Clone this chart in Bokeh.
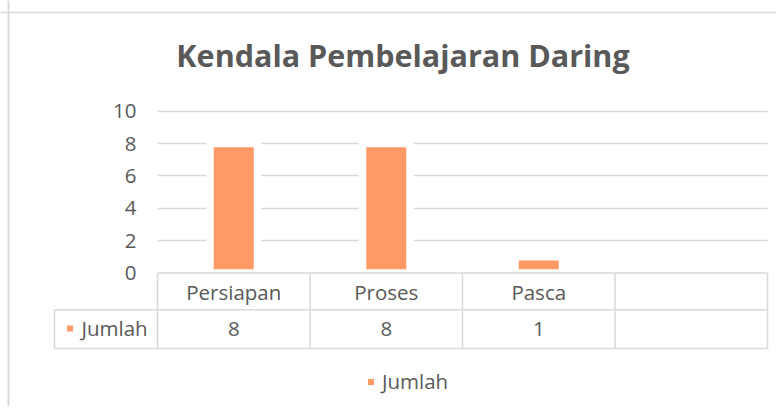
from bokeh.plotting import figure
from bokeh.models import (Range1d, LinearAxis, FixedTicker, Grid, Span, Label,
                          Legend, LegendItem)
from bokeh.embed import file_html
from bokeh.resources import INLINE
from bokeh.core.properties import value

# ---------------- data ----------------
title_text = "Kendala Pembelajaran Daring"
categories = ["Persiapan", "Proses", "Pasca", ""]
values = [8, 8, 1, None]
series_name = "Jumlah"
y_ticks = [0, 2, 4, 6, 8, 10]

# ---------------- style ----------------
FONT = "Open Sans"
FS = "20.5px"
GREY = "#595959"
LINE = "#D9D9D9"
ORANGE = "#FF9966"

W, H = 776, 406
PX = 152.5               # pixels per category
PY = 16.18               # pixels per y unit
X0_PAGE, Y0_PAGE = 157.0, 272.5
DY = 7.2                 # baseline compensation for 20.5px text


def xd(px):
    return (px - X0_PAGE) / PX


def yd(py):
    return (Y0_PAGE - py) / PY


p = figure(width=W, height=H, output_backend="svg", toolbar_location=None,
           x_range=Range1d(xd(0), xd(W)), y_range=Range1d(yd(H), yd(0)),
           x_axis_type=None, y_axis_type=None, min_border=0,
           outline_line_color=None, background_fill_color="white",
           border_fill_color="white")

# chart border (left and top visible)
p.add_layout(Span(location=xd(8), dimension="height", line_color=LINE, line_width=2))
p.add_layout(Span(location=yd(12), dimension="width", line_color=LINE, line_width=1.5))

n = len(categories)

# horizontal gridlines
grid = Grid(dimension=1, ticker=FixedTicker(ticks=[t for t in y_ticks if t > 0]),
            cross_bounds=(0, n), grid_line_color=LINE, grid_line_width=1.5)
p.add_layout(grid)

# y axis placed at the plot-area edge
yaxis = LinearAxis(ticker=FixedTicker(ticks=y_ticks), fixed_location=0,
                   axis_line_color=None, major_tick_line_color=None,
                   minor_tick_line_color=None, major_tick_out=0, major_tick_in=0,
                   major_label_standoff=21,
                   major_label_text_font=FONT, major_label_text_font_size=FS,
                   major_label_text_color=GREY)
p.add_layout(yaxis, "left")

# bars
bx = [i + 0.5 for i, v in enumerate(values) if v is not None]
bt = [v for v in values if v is not None]
p.vbar(x=bx, top=bt, bottom=0, width=47.5 / PX, fill_color=ORANGE,
       line_color="white", line_width=7.5)

# data table lines
row1 = yd(309.3)
row2 = yd(348.0)
left = xd(54)
x0s, y0s, x1s, y1s = [], [], [], []
for (a, b, c, d) in [(0, 0, n, 0), (left, row1, n, row1), (left, row2, n, row2),
                     (left, row1, left, row2)]:
    x0s.append(a); y0s.append(b); x1s.append(c); y1s.append(d)
for i in range(n + 1):
    x0s.append(i); y0s.append(0); x1s.append(i); y1s.append(row2)
p.segment(x0=x0s, y0=y0s, x1=x1s, y1=y1s, line_color=LINE, line_width=1.5)

# data table texts
cx = [i + 0.5 for i in range(n)]
p.text(x=cx, y=[yd(298.5 - DY)] * n, text=categories, text_align="center",
       text_baseline="alphabetic", text_font=value(FONT), text_font_size=FS,
       text_color=GREY)
p.text(x=cx, y=[yd(335.3 - DY)] * n, text=["" if v is None else str(v) for v in values],
       text_align="center", text_baseline="alphabetic", text_font=value(FONT),
       text_font_size=FS, text_color=GREY)

# series key inside the data table
mk = p.scatter(x=[xd(69.5)], y=[yd(328.0)], marker="square", size=6,
               fill_color=ORANGE, line_color=None)
p.text(x=[xd(81.0)], y=[yd(335.0 - DY)], text=[series_name], text_align="left",
       text_baseline="alphabetic", text_font=value(FONT), text_font_size=FS,
       text_color=GREY)

# title
p.add_layout(Label(x=xd(402.5), y=yd(67.3 - 12.5), text=title_text, text_align="center",
                   text_baseline="alphabetic", text_font=FONT, text_font_style="bold",
                   text_font_size="30.5px", text_color=GREY))

# bottom legend
leg_bottom = Legend(items=[LegendItem(label=series_name, renderers=[mk])],
                    location=(363, 11), glyph_width=15, glyph_height=15,
                    label_standoff=4, padding=0, margin=0,
                    border_line_color=None, background_fill_alpha=0,
                    label_text_font=FONT, label_text_font_size=FS,
                    label_text_color=GREY)
p.add_layout(leg_bottom)

open("out.html", "w").write(file_html(p, INLINE))
